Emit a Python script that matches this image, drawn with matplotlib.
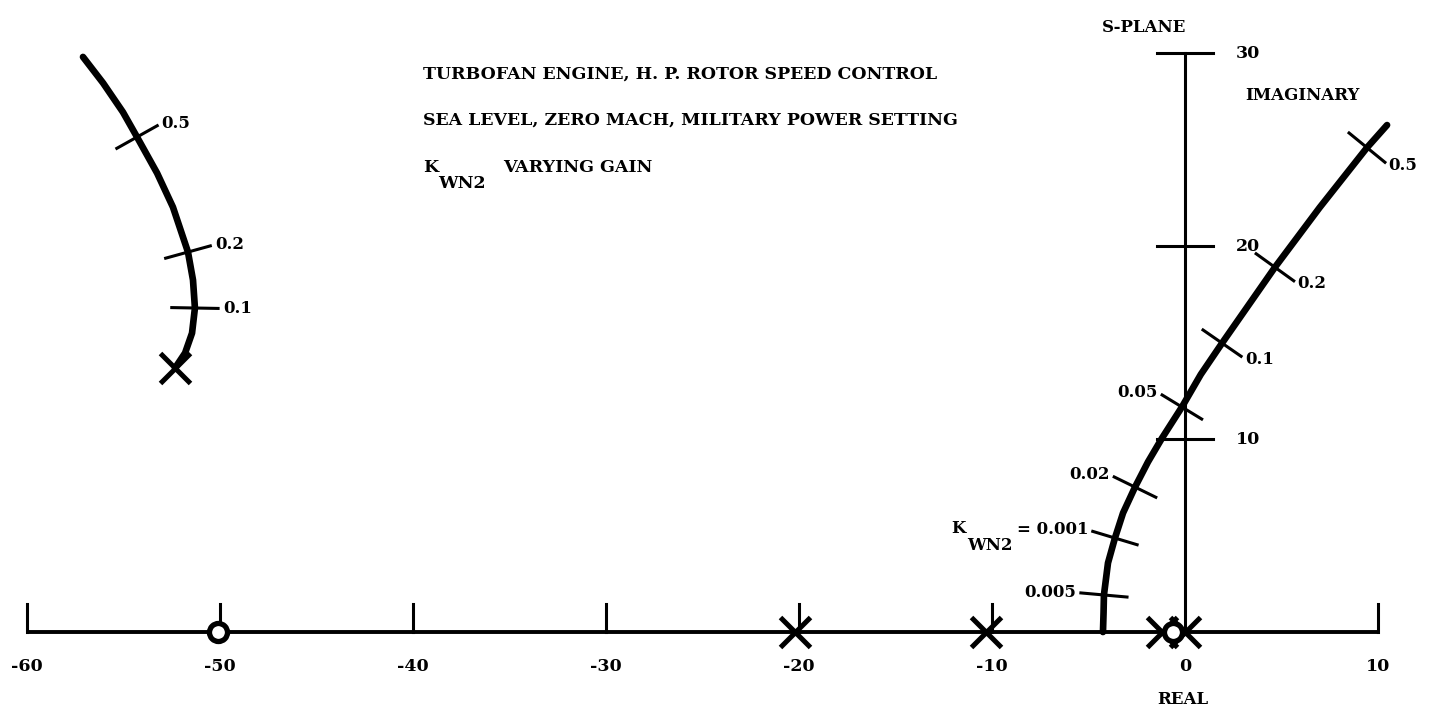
import numpy as np
import matplotlib.pyplot as plt

plt.rcParams['font.family'] = ['DejaVu Serif']
plt.rcParams['font.weight'] = 'bold'

# branch leaving the real axis near -4.3 and climbing to the right
right_re = [-4.25, -4.22, -4.2, -3.99, -3.63, -3.21, -2.59, -1.92, -1.19, -0.16,
            0.82, 1.92, 4.66, 6.98, 9.43, 10.47]
right_im = [0.0, 1.0, 1.92, 3.58, 4.87, 6.17, 7.51, 8.81, 10.05, 11.66,
            13.35, 14.97, 18.9, 22.0, 25.1, 26.27]
right_gain_idx = [2, 4, 6, 9, 11, 12, 14]
right_gain = ['0.005', '= 0.001', '0.02', '0.05', '0.1', '0.2', '0.5']

# branch leaving the complex pole near -52.3 + 13.7j
left_re = [-52.33, -51.81, -51.45, -51.3, -51.4, -51.66, -52.44, -53.26, -54.3, -55.03, -56.06, -57.1]
left_im = [13.68, 14.46, 15.49, 16.79, 18.24, 19.69, 22.02, 23.78, 25.65, 26.94, 28.45, 29.8]
left_gain_idx = [3, 5, 8]
left_gain = ['0.1', '0.2', '0.5']

poles_re = [-20.2, -10.3, -1.2, 0.0]
zeros_re = [-50.1, -0.6]

real_ticks = [-60, -50, -40, -30, -20, -10, 0, 10]
imag_ticks = [10, 20, 30]

title_lines = ['TURBOFAN ENGINE, H. P. ROTOR SPEED CONTROL',
               'SEA LEVEL, ZERO MACH, MILITARY POWER SETTING']
title_last = 'VARYING GAIN'

fig = plt.figure(figsize=(14.33, 7.10), dpi=100)
ax = fig.add_axes([0, 0, 1, 1])
ax.set_xlim(-61.4, 12.85)
ax.set_ylim(-4.04, 32.75)
ax.axis('off')

# axes of the s-plane
ax.plot([real_ticks[0], real_ticks[-1]], [0, 0], color='black', lw=2.8, solid_capstyle='butt', zorder=2)
ax.plot([0, 0], [0, imag_ticks[-1]], color='black', lw=2.2, zorder=2)
for t in real_ticks:
    if t != 0:
        ax.plot([t, t], [0, 1.45], color='black', lw=2.2, zorder=2)
    ax.text(t, -1.8, '%d' % t, ha='center', va='center', fontsize=12.5)
for t in imag_ticks:
    ax.plot([-1.45, 1.45], [t, t], color='black', lw=2.2, zorder=2)
    ax.text(2.65, t, '%d' % t, ha='left', va='center', fontsize=12.5)
ax.text(-0.1, -3.5, 'REAL', ha='center', va='center', fontsize=12)
ax.text(3.1, 27.8, 'IMAGINARY', ha='left', va='center', fontsize=12)
ax.text(-2.1, 31.3, 'S-PLANE', ha='center', va='center', fontsize=12)


def draw_branch(re, im, idx, labels, label_left):
    re = np.array(re)
    im = np.array(im)
    ax.plot(re, im, color='black', lw=4.8, solid_capstyle='round', solid_joinstyle='round', zorder=3)
    dre = np.gradient(re)
    dim = np.gradient(im)
    out = []
    for i, lab, left in zip(idx, labels, label_left):
        tx, ty = dre[i], dim[i]
        n = np.hypot(tx, ty)
        nx, ny = -ty / n, tx / n
        if not left:
            nx, ny = -nx, -ny
        h = 1.2
        ax.plot([re[i] - h * nx, re[i] + h * nx], [im[i] - h * ny, im[i] + h * ny],
                color='black', lw=2.2, zorder=3)
        t = ax.text(re[i] + (h + 0.25) * nx, im[i] + (h + 0.25) * ny, lab,
                    ha='left' if nx > 0 else 'right', va='center', fontsize=12)
        out.append(t)
    return out


rlabels = draw_branch(right_re, right_im, right_gain_idx, right_gain,
                      [True, True, True, True, False, False, False])
# K with the big, low "WN2" subscript in front of "= 0.001"
wn = ax.annotate('WN2', xy=(0, 0), xycoords=rlabels[1], xytext=(-3, 1),
                 textcoords='offset points', ha='right', va='top', fontsize=12)
ax.annotate('K', xy=(0, 1), xycoords=wn, xytext=(-1, 0),
            textcoords='offset points', ha='right', va='bottom', fontsize=12)
draw_branch(left_re, left_im, left_gain_idx, left_gain, [False, False, False])

# open-loop poles and zeros
ax.plot(poles_re, [0] * len(poles_re), 'x', color='black', ms=21, mew=3.6, zorder=4)
ax.plot([left_re[0]], [left_im[0]], 'x', color='black', ms=21, mew=3.6, zorder=4)
ax.plot(zeros_re, [0] * len(zeros_re), 'o', mfc='white', mec='black', ms=13, mew=3.8, zorder=5)

for k, line in enumerate(title_lines):
    fig.text(0.2952, 1 - (74 + 46.5 * k) / 710, line, ha='left', va='center', fontsize=12.5)
kt = fig.text(0.2952, 1 - 167.5 / 710, 'K', ha='left', va='center', fontsize=12.5)
ax.annotate('WN2', xy=(1, 0), xycoords=kt, xytext=(0, 1), textcoords='offset points',
            ha='left', va='top', fontsize=12.5)
fig.text(0.351, 1 - 167.5 / 710, title_last, ha='left', va='center', fontsize=12.5)

fig.savefig('out.png', dpi=100)
